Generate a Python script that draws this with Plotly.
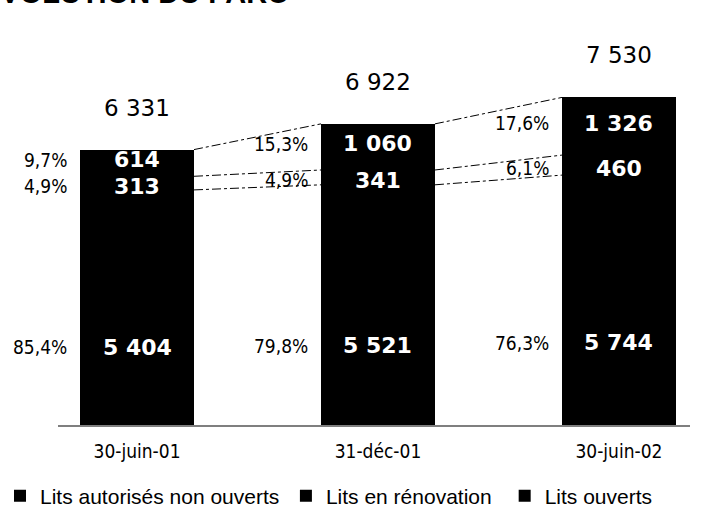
import plotly.graph_objects as go

# ---- data ----
categories = ["30-juin-01", "31-déc-01", "30-juin-02"]
lits_ouverts = [5404, 5521, 5744]
lits_renovation = [313, 341, 460]
lits_autorises = [614, 1060, 1326]
name_ouverts = "Lits ouverts"
name_renovation = "Lits en rénovation"
name_autorises = "Lits autorisés non ouverts"
title_text = "ÉVOLUTION DU PARC"

totals = [a + b + c for a, b, c in zip(lits_ouverts, lits_renovation, lits_autorises)]


def fr_int(v):
    return f"{v:,}".replace(",", " ")


def fr_pct(v, t):
    return f"{100 * v / t:.1f}".replace(".", ",") + "%"


BARGAP = 0.527
HALF = (1 - BARGAP) / 2
NUM_FONT = "Verdana, DejaVu Sans, sans-serif"
COND_FONT = "DejaVu Sans Condensed, Tahoma, DejaVu Sans, sans-serif"
ARIAL = "Arial, Liberation Sans, sans-serif"

fig = go.Figure()
legend_ids = {name_autorises: "legend4", name_renovation: "legend2", name_ouverts: "legend3"}
for name, vals in [(name_ouverts, lits_ouverts),
                   (name_renovation, lits_renovation),
                   (name_autorises, lits_autorises)]:
    fig.add_trace(go.Bar(x=categories, y=vals, name=name, legend=legend_ids[name],
                         showlegend=True,
                         marker=dict(color="black", line=dict(width=0)),
                         hoverinfo="skip"))

annotations = []
shapes = []
for i, cat in enumerate(categories):
    o, r, a, t = lits_ouverts[i], lits_renovation[i], lits_autorises[i], totals[i]
    # totals above bars
    annotations.append(dict(x=i, y=t, xref="x", yref="y", text=fr_int(t),
                            showarrow=False, yanchor="middle", yshift=42,
                            font=dict(family=NUM_FONT, size=23, color="black")))
    label_y = [o * 0.33, o + r / 2, o + r + a / 2]
    label_v = [o, r, a]
    label_shift = [0, -3, 3]
    for ly, lv, ls in zip(label_y, label_v, label_shift):
        annotations.append(dict(x=i, y=ly, xref="x", yref="y", text="<b>" + fr_int(lv) + "</b>",
                                showarrow=False, yanchor="middle", yshift=ls,
                                font=dict(family=NUM_FONT, size=22, color="white")))
        annotations.append(dict(x=i - HALF, y=ly, xref="x", yref="y", text=fr_pct(lv, t),
                                showarrow=False, xanchor="right", yanchor="middle",
                                xshift=-11, yshift=ls,
                                font=dict(family=COND_FONT, size=19, color="black")))

levels = [[o, o + r, o + r + a] for o, r, a in zip(lits_ouverts, lits_renovation, lits_autorises)]
for i in range(len(categories) - 1):
    for k in range(3):
        shapes.append(dict(type="line", xref="x", yref="y",
                           x0=i + HALF, y0=levels[i][k], x1=i + 1 - HALF, y1=levels[i + 1][k],
                           line=dict(color="black", width=1, dash="dashdot")))

annotations.append(dict(x=-0.125, y=1.0755, xref="paper", yref="paper", text="<b>" + title_text + "</b>",
                        showarrow=False, xanchor="left", yanchor="bottom",
                        font=dict(family=ARIAL, size=29, color="black")))

legend_common = dict(orientation="h", xref="container", yref="container", y=0.0236,
                     xanchor="left", yanchor="middle", bgcolor="rgba(0,0,0,0)",
                     font=dict(family=ARIAL, size=21, color="black"))

fig.update_layout(
    width=722, height=508,
    margin=dict(l=58, r=32, t=40, b=83, autoexpand=False),
    barmode="stack", bargap=BARGAP,
    plot_bgcolor="white", paper_bgcolor="white",
    showlegend=True,
    xaxis=dict(type="category", range=[-0.328, 2.295], showline=True, linecolor="#7f7f7f",
               linewidth=2, ticks="", showgrid=False, zeroline=False, automargin=False,
               tickfont=dict(family=COND_FONT, size=19, color="black"), ticklabelstandoff=8),
    yaxis=dict(visible=False, range=[0, 8850], showgrid=False, zeroline=False),
    legend4=dict(x=0, **legend_common),
    legend2=dict(x=0.396, **legend_common),
    legend3=dict(x=0.699, **legend_common),
    annotations=annotations, shapes=shapes,
)

fig.write_html("out.html")
